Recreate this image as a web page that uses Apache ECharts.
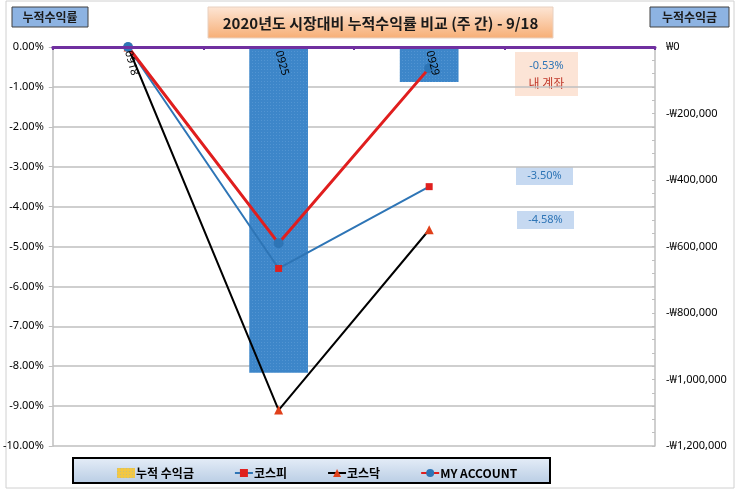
<!DOCTYPE html>
<html>
<head>
<meta charset="utf-8">
<script src="https://cdn.jsdelivr.net/npm/echarts@6/dist/echarts.min.js"></script>
<style>html,body{margin:0;padding:0;background:#fff}#c{width:740px;height:490px}</style>
</head>
<body>
<div id="c"></div>
<script>
var categories = ['0918', '0925', '0929', ''];
var profitWon = [0, -980000, -105000, null];
var kospi = [0, -5.55, -3.50, null];
var kosdaq = [0, -9.10, -4.58, null];
var myAccount = [0, -4.92, -0.53, null];
var seriesNames = ['누적 수익금', '코스피', '코스닥', 'MY ACCOUNT'];
var titleText = '2020년도 시장대비 누적수익률 비교 (주 간) - 9/18';
var leftAxisName = '누적수익률';
var rightAxisName = '누적수익금';
var myAccountLabel = '내 계좌';

var KR = '"Noto Sans CJK KR", "Noto Sans", sans-serif';
var chart = echarts.init(document.getElementById('c'));

function pct(v) { return v.toFixed(2) + '%'; }
function won(v) {
  if (v % 200000 !== 0) return '';
  if (v === 0) return '₩0';
  var s = Math.abs(v).toString().replace(/\B(?=(\d{3})+(?!\d))/g, ',');
  return (v < 0 ? '-' : '') + '₩' + s;
}

function box(x, y, w, h, fill, stroke, lines) {
  var children = [{
    type: 'rect', shape: { x: x, y: y, width: w, height: h },
    style: { fill: fill, stroke: stroke || null, lineWidth: stroke ? 1 : 0 }
  }];
  lines.forEach(function (l) {
    children.push({
      type: 'text', x: x + w / 2, y: y + l.dy,
      style: { text: l.text, fill: l.color, font: l.font, align: 'center', verticalAlign: 'middle' }
    });
  });
  return { type: 'group', children: children, z: 10 };
}

var option = {
  backgroundColor: '#fff',
  animation: false,
  grid: { left: 52, right: 85, top: 47, bottom: 44 },
  legend: {
    left: 112, top: 462, itemGap: 40, itemWidth: 18, itemHeight: 10,
    textStyle: { fontFamily: KR, fontWeight: 'bold', fontSize: 12, color: '#000', padding: [0, 0, 0, -4] },
    data: [
      { name: seriesNames[0], icon: 'rect', itemStyle: { color: '#f2c744' } },
      { name: seriesNames[1] },
      { name: seriesNames[2] },
      { name: seriesNames[3] }
    ]
  },
  xAxis: {
    type: 'category', position: 'top', data: categories, boundaryGap: true, z: 5,
    axisLine: { onZero: false, lineStyle: { color: '#7030a0', width: 3 } },
    axisTick: { show: true, inside: true, length: 3, lineStyle: { color: '#7030a0', width: 2 } },
    axisLabel: { inside: true, interval: 0, rotate: 75, align: 'left', verticalAlign: 'middle', margin: 4,
      fontSize: 11, color: '#000', fontFamily: 'Noto Sans' },
    splitLine: { show: false }
  },
  yAxis: [{
    type: 'value', min: -10, max: 0, interval: 1,
    axisLine: { show: true, lineStyle: { color: '#bfbfbf', width: 1.5 } },
    axisTick: { show: true, length: 4, lineStyle: { color: '#bfbfbf' } },
    axisLabel: { formatter: pct, fontSize: 11, color: '#000', margin: 9, fontFamily: 'Noto Sans' },
    splitLine: { lineStyle: { color: '#bfbfbf', width: 1.5 } }
  }, {
    type: 'value', min: -1200000, max: 0, interval: 40000,
    axisLine: { show: true, lineStyle: { color: '#bfbfbf', width: 1.5 } },
    axisTick: { show: true, inside: true, length: 3, lineStyle: { color: '#bfbfbf' } },
    axisLabel: { formatter: won, fontSize: 11, color: '#000', margin: 11, fontFamily: 'Noto Sans' },
    splitLine: { show: false }
  }],
  series: [{
    name: seriesNames[0], type: 'bar', yAxisIndex: 1, data: profitWon, barWidth: '39%',
    itemStyle: { color: '#3d86c9', decal: { symbol: 'rect', symbolSize: 1, color: 'rgba(120,175,225,0.35)', dashArrayX: [[1, 2]], dashArrayY: [1, 2], rotation: 0 } }, z: 1
  }, {
    name: seriesNames[1], type: 'line', data: kospi, symbol: 'rect', symbolSize: 7,
    lineStyle: { color: '#2e75b6', width: 2 }, itemStyle: { color: '#e0201e' }, z: 3
  }, {
    name: seriesNames[2], type: 'line', data: kosdaq, symbol: 'triangle', symbolSize: 9,
    lineStyle: { color: '#000', width: 2 }, itemStyle: { color: '#e0401a' }, z: 2
  }, {
    name: seriesNames[3], type: 'line', data: myAccount, symbol: 'circle', symbolSize: 10,
    lineStyle: { color: '#e01e1e', width: 3 }, itemStyle: { color: '#2e75b6' }, z: 4
  }],
  graphic: [
    { type: 'rect', shape: { x: 6, y: 1, width: 728, height: 487 }, style: { fill: null, stroke: '#d0d0d0', lineWidth: 1 }, z: 0, silent: true },
    { type: 'rect', shape: { x: 73, y: 458, width: 477, height: 25 },
      style: { fill: new echarts.graphic.LinearGradient(0, 0, 0, 1, [{ offset: 0, color: '#e6eef8' }, { offset: 1, color: '#b8cce4' }]), stroke: '#000', lineWidth: 2 }, z: -1 },
    box(208, 7, 345, 31, new echarts.graphic.LinearGradient(0, 0, 0, 1, [{ offset: 0, color: '#fde6d6' }, { offset: 1, color: '#f7ae75' }]), '#e8d0c0',
      [{ text: titleText, dy: 16, color: '#1a1a1a', font: 'bold 15px ' + KR }]),
    box(12, 7, 76, 20, '#8db3e2', '#404040', [{ text: leftAxisName, dy: 10, color: '#1a1a1a', font: 'bold 12px ' + KR }]),
    box(650, 7, 79, 20, '#8db3e2', '#404040', [{ text: rightAxisName, dy: 10, color: '#1a1a1a', font: 'bold 12px ' + KR }]),
    box(515, 52, 63, 44, '#fce4d6', null, [
      { text: pct(myAccount[2]), dy: 14, color: '#2e75b6', font: '11px "Noto Sans"' },
      { text: myAccountLabel, dy: 31, color: '#c0392b', font: '12px ' + KR }
    ]),
    box(516, 167, 57, 18, '#c6d9f1', null, [{ text: pct(kospi[2]), dy: 9, color: '#2e75b6', font: '11px "Noto Sans"' }]),
    box(517, 211, 57, 18, '#c6d9f1', null, [{ text: pct(kosdaq[2]), dy: 9, color: '#2e75b6', font: '11px "Noto Sans"' }])
  ]
};
chart.setOption(option);
</script>
</body>
</html>
